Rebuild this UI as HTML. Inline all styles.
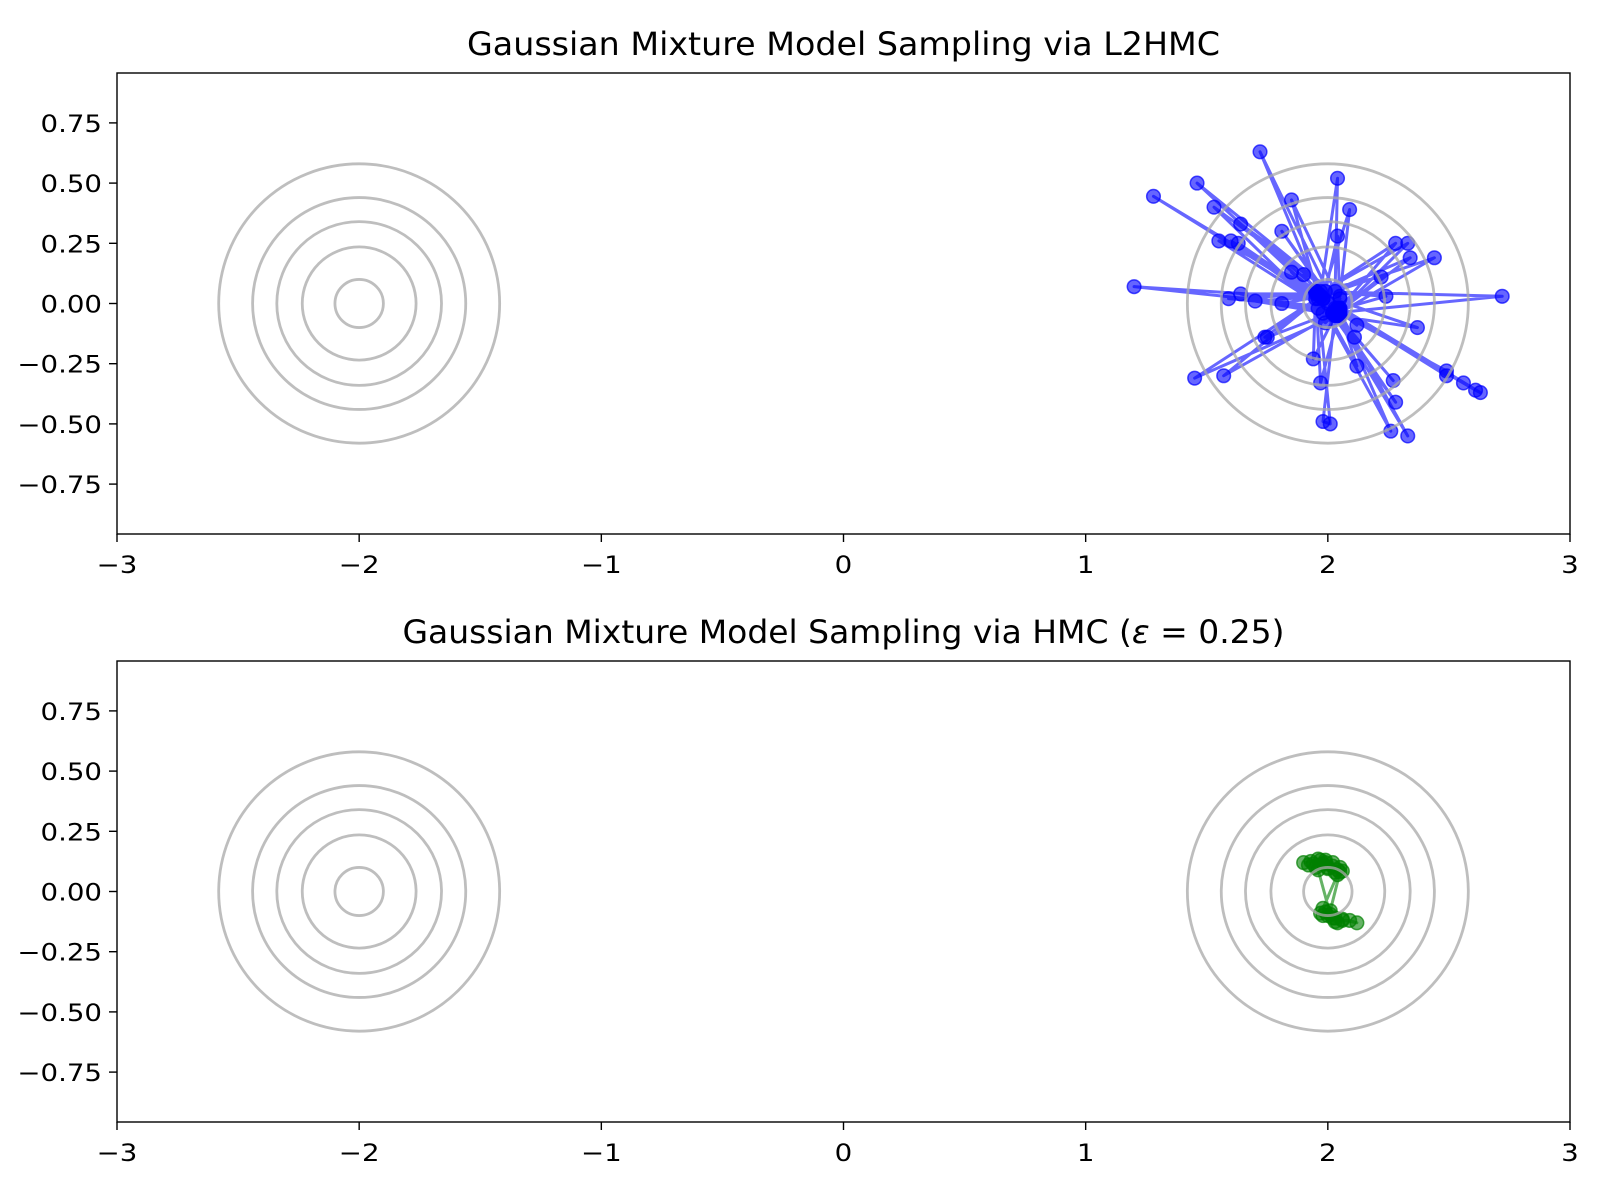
<!DOCTYPE html>
<html><head><meta charset="utf-8">
<style>
html,body{margin:0;padding:0;background:#fff;}
svg{display:block;font-family:"DejaVu Sans","Liberation Sans",sans-serif;}
</style></head>
<body>
<svg id="chart" width="1600" height="1200" viewBox="0 0 1600 1200" xmlns="http://www.w3.org/2000/svg"></svg>
<script>
const xTicks = [-3,-2,-1,0,1,2,3];
const xTickLabels = ["\u22123","\u22122","\u22121","0","1","2","3"];
const yTicks = [-0.75,-0.5,-0.25,0,0.25,0.5,0.75];
const yTickLabels = ["\u22120.75","\u22120.50","\u22120.25","0.00","0.25","0.50","0.75"];
const modeCenters = [[-2,0],[2,0]];
const contourRadii = [0.58,0.44,0.34,0.235,0.10];
const l2hmcX = [1.97,1.72,2.04,1.28,1.95,1.46,2.05,1.53,1.98,1.85,2.03,2.04,1.96,2.09,2.05,1.64,1.97,1.55,2.02,1.60,1.95,1.63,2.04,1.81,1.99,2.04,2.05,2.28,1.96,2.33,2.03,2.44,1.97,2.34,2.05,2.22,1.95,1.85,2.02,1.90,1.98,1.20,2.04,1.59,1.96,1.64,2.05,1.70,1.97,1.81,2.03,2.24,1.95,2.72,2.02,2.05,1.98,1.99,2.05,2.12,1.96,2.37,2.03,2.11,1.97,1.74,1.75,2.04,1.94,1.95,2.12,2.05,2.49,2.49,1.98,2.56,2.03,2.61,2.63,1.96,2.27,2.04,1.45,1.97,1.57,2.05,1.97,1.95,2.28,2.03,1.98,2.01,1.96,2.26,2.04,2.33,2.00];
const l2hmcY = [0.03,0.63,-0.03,0.445,0.04,0.50,0.02,0.40,-0.04,0.43,0.05,0.52,-0.02,0.39,0.03,0.33,0.05,0.26,-0.04,0.26,0.02,0.25,-0.03,0.30,0.05,0.28,-0.02,0.25,0.04,0.25,-0.05,0.19,0.03,0.19,-0.03,0.11,0.05,0.13,-0.04,0.12,0.02,0.07,-0.02,0.02,0.04,0.04,-0.05,0.01,0.03,0.00,-0.03,0.03,0.05,0.03,-0.04,-0.05,0.02,-0.08,-0.02,-0.09,0.04,-0.10,-0.05,-0.14,0.03,-0.14,-0.14,-0.03,-0.23,0.05,-0.26,-0.04,-0.28,-0.30,0.02,-0.33,-0.02,-0.36,-0.37,0.04,-0.32,-0.05,-0.31,0.03,-0.30,-0.03,-0.33,0.05,-0.41,-0.04,-0.49,-0.50,0.02,-0.53,-0.02,-0.55,0.00];
const hmcX = [1.90,1.93,1.96,1.99,2.02,1.95,2.00,2.05,2.03,1.92,1.98,2.06,2.04,1.98,2.00,2.03,2.06,2.09,2.12,2.02,1.97,2.04,1.99,2.01,1.96,1.99,2.02,1.97,2.00,2.04,1.94,2.05,2.01,2.03,2.06,1.98];
const hmcY = [0.12,0.125,0.135,0.13,0.12,0.10,0.10,0.10,0.08,0.11,0.115,0.085,0.07,-0.07,-0.10,-0.125,-0.12,-0.12,-0.13,-0.11,-0.09,-0.13,-0.085,-0.095,0.09,0.12,0.105,0.13,0.095,0.09,0.115,0.08,-0.08,-0.11,-0.115,-0.10];

const NS = "http://www.w3.org/2000/svg";
const svg = document.getElementById('chart');
function mk(tag, attrs, parent){ const e=document.createElementNS(NS,tag); for(const k in attrs) e.setAttribute(k,attrs[k]); (parent||svg).appendChild(e); return e; }
function stretch(t){ try{ const w=t.getComputedTextLength(); if(w>0){ t.setAttribute('textLength', (w*1.15).toFixed(1)); t.setAttribute('lengthAdjust','spacingAndGlyphs'); } }catch(e){} }

function panel(top, title, titleLen, sx, sy, color, key){
  const L=117,R=1570,T=top,B=top+461;
  const xs = v => L + (v+3)/6*(R-L);
  const ys = v => (T+B)/2 - v*240.8;
  const g = mk('g',{});
  
  
  const pts = sx.map((v,i)=>xs(v)+','+ys(sy[i])).join(' ');
  const pl = mk('polyline',{points:pts,fill:'none',stroke:color,'stroke-width':3,'stroke-opacity':0.6,'stroke-linejoin':'round'},g);
  
  
  sx.forEach((v,i)=>{
    const c = mk('circle',{cx:xs(v),cy:ys(sy[i]),r:6.8,fill:color,'fill-opacity':0.6,stroke:color,'stroke-opacity':0.7,'stroke-width':1.5},g);
    
    
  });
  modeCenters.forEach((c,ci)=>{
    contourRadii.forEach((r,ri)=>{
      const e = mk('ellipse',{cx:xs(c[0]),cy:ys(c[1]),rx:r*242.2,ry:r*240.8,fill:'none',stroke:'#a8a8a8','stroke-opacity':0.75,'stroke-width':2.8},g);
      
      
    });
  });
  const f = mk('rect',{x:L,y:T,width:R-L,height:B-T,fill:'none',stroke:'#000','stroke-width':1.4},g);
  
  
  xTicks.forEach((t,i)=>{
    mk('line',{x1:xs(t),x2:xs(t),y1:B,y2:B+8,stroke:'#000','stroke-width':1.4},g);
    const tx = mk('text',{x:xs(t),y:B+39,'font-size':24,'text-anchor':'middle',fill:'#000'},g);
    tx.textContent = xTickLabels[i];
    
    
    stretch(tx);
  });
  yTicks.forEach((t,i)=>{
    mk('line',{x1:L-8,x2:L,y1:ys(t),y2:ys(t),stroke:'#000','stroke-width':1.4},g);
    const tx = mk('text',{x:L-15,y:ys(t)+9,'font-size':24,'text-anchor':'end',fill:'#000'},g);
    tx.textContent = yTickLabels[i];
    
    
    stretch(tx);
  });
  const tt = mk('text',{x:(L+R)/2,y:T-18,'font-size':32,'text-anchor':'middle',fill:'#000',textLength:titleLen,lengthAdjust:'spacingAndGlyphs'},g);
  tt.innerHTML = title;
  
  
}
panel(73, 'Gaussian Mixture Model Sampling via L2HMC', 753, l2hmcX, l2hmcY, '#0000ff', 'l2hmc');
panel(661, 'Gaussian Mixture Model Sampling via HMC (<tspan font-style="italic">ε</tspan> = 0.25)', 882, hmcX, hmcY, '#008000', 'hmc');
</script>
</body></html>
